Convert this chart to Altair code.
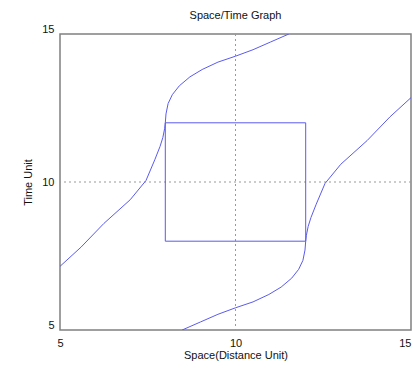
import altair as alt
import pandas as pd

# Curve 1 (upper-left world line)
c1_x = [5.00, 5.60, 6.25, 7.00, 7.45, 7.70, 7.85, 7.93, 7.98, 8.00, 8.02, 8.08, 8.20, 8.40, 8.70, 9.05, 9.50, 10.00, 10.50, 11.00, 11.52]
c1_t = [7.15, 7.80, 8.60, 9.40, 10.05, 10.75, 11.20, 11.50, 11.80, 12.00, 12.30, 12.65, 12.95, 13.25, 13.55, 13.80, 14.05, 14.25, 14.47, 14.73, 15.00]

# Curve 2 (lower-right world line)
c2_x = [8.48, 9.00, 9.50, 10.00, 10.50, 10.95, 11.30, 11.60, 11.80, 11.92, 11.98, 12.00, 12.02, 12.07, 12.15, 12.30, 12.55, 13.00, 13.75, 14.40, 15.00]
c2_t = [5.00, 5.27, 5.53, 5.75, 5.95, 6.20, 6.45, 6.75, 7.05, 7.35, 7.70, 8.00, 8.20, 8.50, 8.80, 9.25, 9.95, 10.60, 11.40, 12.20, 12.85]

# Rectangle corners (closed)
rect_x = [8, 12, 12, 8, 8]
rect_t = [8, 8, 12, 12, 8]

grid_x = [10]
grid_t = [10]
tick_vals = [5, 10, 15]

BLUE = "#5b5bee"

rows = []
for i, (x, t) in enumerate(zip(c1_x, c1_t)):
    rows.append({"x": x, "t": t, "s": "c1", "i": i})
for i, (x, t) in enumerate(zip(c2_x, c2_t)):
    rows.append({"x": x, "t": t, "s": "c2", "i": i})
for i, (x, t) in enumerate(zip(rect_x, rect_t)):
    rows.append({"x": x, "t": t, "s": "rect", "i": i})
df = pd.DataFrame(rows)

xs = alt.Scale(domain=[5, 15], nice=False, zero=False)
ys = alt.Scale(domain=[5, 15], nice=False, zero=False)

lines = alt.Chart(df).mark_line(color=BLUE, strokeWidth=1, clip=True).encode(
    x=alt.X("x:Q", scale=xs,
            axis=alt.Axis(values=tick_vals, title="Space(Distance Unit)", grid=False,
                          ticks=False, labelPadding=7, titlePadding=1, domain=False,
                          labelFlush=False,
                          labelAlign={"condition": {"test": "datum.value == 15", "value": "right"},
                                      "value": "center"})),
    y=alt.Y("t:Q", scale=ys,
            axis=alt.Axis(values=tick_vals, title="Time Unit", grid=False,
                          ticks=False, labelPadding=6, titlePadding=8, domain=False,
                          labelFlush=False,
                          labelBaseline={"condition": {"test": "datum.value == 10", "value": "middle"},
                                         "value": "bottom"})),
    detail="s:N",
    order="i:Q",
)

vgrid = alt.Chart(pd.DataFrame({"x": grid_x})).mark_rule(
    color="#999999", strokeDash=[2, 3], strokeWidth=1).encode(x=alt.X("x:Q", scale=xs))
hgrid = alt.Chart(pd.DataFrame({"t": grid_t})).mark_rule(
    color="#999999", strokeDash=[2, 3], strokeWidth=1).encode(y=alt.Y("t:Q", scale=ys))

chart = alt.layer(vgrid, hgrid, lines).properties(
    width=351, height=296,
    title=alt.TitleParams("Space/Time Graph", fontSize=11, fontWeight="normal",
                          font="Liberation Sans", color="#111111", offset=2),
    autosize=alt.AutoSizeParams(type="none"),
    padding={"left": 52, "top": 26, "right": 1, "bottom": 32},
).configure_view(
    stroke="#808080", strokeWidth=1.5
).configure_axis(
    labelFont="Liberation Sans", titleFont="Liberation Sans",
    labelFontSize=11, titleFontSize=11, titleFontWeight="normal",
    labelColor="#111111", titleColor="#111111",
)

chart.save("out.html", embed_options={"renderer": "svg", "actions": False})
